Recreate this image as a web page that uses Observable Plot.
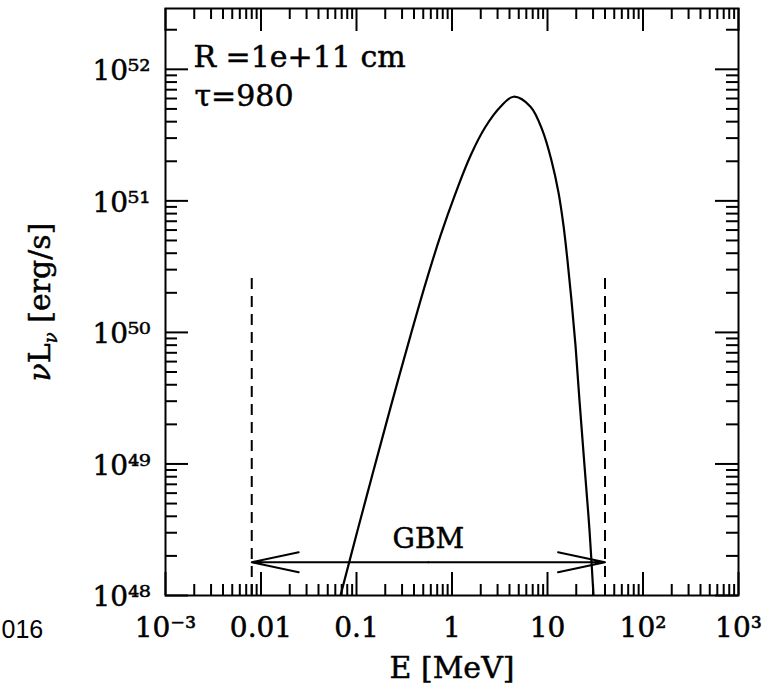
<!DOCTYPE html>
<html>
<head>
<meta charset="utf-8">
<script src="https://cdn.jsdelivr.net/npm/d3@7"></script>
<script src="https://cdn.jsdelivr.net/npm/@observablehq/plot@0.6"></script>
<style>
  body { margin: 0; background: #fff; }
  #chart svg { display: block; }
</style>
</head>
<body>
<div id="chart"></div>
<script>
// Spectrum (E in MeV, nu L_nu in erg/s)
const energyMeV = [0.0680, 0.1025, 0.1507, 0.2270, 0.3677, 0.5279, 0.7578, 1.088, 1.562, 2.243, 3.221, 4.406, 6.637, 8.866, 11.02, 13.04, 14.71, 16.20, 17.84, 19.65, 21.63, 24.40, 27.54, 30.32];
const nuLnu = [1.00e48, 3.12e48, 8.91e48, 2.68e49, 9.46e49, 2.35e50, 5.44e50, 1.142e51, 2.206e51, 3.66e51, 5.20e51, 6.19e51, 5.20e51, 3.42e51, 2.02e51, 1.155e51, 6.48e50, 3.51e50, 1.744e50, 7.94e49, 3.03e49, 9.72e48, 3.12e48, 1.00e48];

// GBM band
const gbmRange = [0.008, 40];
const gbmLineTop = 2.8e50;
const gbmArrowLevel = 1.79e48;
const gbmLabelLevel = 2.7e48;
const gbmLabel = "GBM";

// Annotations
const annotations = ["R =1e+11 cm", "τ=980"];
const xLabel = "E [MeV]";
const yLabel = "νLν [erg/s]";
const sideNote = "016";

// Axes
const xDomain = [1e-3, 1e3];
const yDomain = [1e48, 2.9e52];
const xMajorTicks = [1e-3, 1e-2, 1e-1, 1, 10, 100, 1000];
const xTickLabels = ["10⁻³", "0.01", "0.1", "1", "10", "10²", "10³"];
const yMajorTicks = [1e48, 1e49, 1e50, 1e51, 1e52];
const yTickLabels = ["10⁴⁸", "10⁴⁹", "10⁵⁰", "10⁵¹", "10⁵²"];

function minorTicks([lo, hi]) {
  const out = [];
  for (let e = Math.floor(Math.log10(lo)); e <= Math.ceil(Math.log10(hi)); e++) {
    for (let m = 2; m <= 9; m++) {
      const v = +(m + "e" + e);
      if (v > lo && v < hi) out.push(v);
    }
  }
  return out;
}
const xMinorTicks = minorTicks(xDomain);
const yMinorTicks = minorTicks(yDomain);

// layout
const W = 773, H = 693, mL = 165, mR = 35, mT = 8, mB = 98;
const plotW = W - mL - mR, plotH = H - mT - mB;
const MAJ = 23, MIN_X = 11, MIN_Y = 12;

const spectrum = energyMeV.map((E, i) => ({E, L: nuLnu[i]}));
const gbmMid = Math.sqrt(gbmRange[0] * gbmRange[1]);
const arrows = gbmRange.map(end => ({x1: gbmMid, x2: end, y: gbmArrowLevel}));

const FONT = "DejaVu Serif";
const tickFmtX = d => xTickLabels[xMajorTicks.indexOf(d)];
const tickFmtY = d => yTickLabels[yMajorTicks.indexOf(d)];
const TS = {fill: "#000", stroke: "#000", strokeWidth: 0.5};
const TK = {stroke: "#000", strokeWidth: 2};

// inward ticks on all four sides: tick marks inset from the opposite edge
const inwardTicks = [
  Plot.tickX(xMajorTicks, {x: d => d, insetTop: plotH - MAJ, ...TK}),
  Plot.tickX(xMinorTicks, {x: d => d, insetTop: plotH - MIN_X, ...TK}),
  Plot.tickX(xMajorTicks, {x: d => d, insetBottom: plotH - MAJ, ...TK}),
  Plot.tickX(xMinorTicks, {x: d => d, insetBottom: plotH - MIN_X, ...TK}),
  Plot.tickY(yMajorTicks, {y: d => d, insetRight: plotW - MAJ, ...TK}),
  Plot.tickY(yMinorTicks, {y: d => d, insetRight: plotW - MIN_Y, ...TK}),
  Plot.tickY(yMajorTicks, {y: d => d, insetLeft: plotW - MAJ, ...TK}),
  Plot.tickY(yMinorTicks, {y: d => d, insetLeft: plotW - MIN_Y, ...TK})
];

const chart = Plot.plot({
  width: W,
  height: H,
  marginLeft: mL,
  marginRight: mR,
  marginTop: mT,
  marginBottom: mB,
  style: {fontFamily: FONT, background: "#fff", color: "#000"},
  x: {type: "log", domain: xDomain, label: null},
  y: {type: "log", domain: yDomain, label: null},
  marks: [
    // tick labels
    Plot.axisX(xMajorTicks, {anchor: "bottom", tickSize: 0, tickPadding: 22, tickFormat: tickFmtX, fontSize: 28, fontFamily: FONT, textStroke: "#000", textStrokeWidth: 0.5, label: null}),
    Plot.axisY(yMajorTicks, {anchor: "left", tickSize: 0, tickPadding: 15, tickFormat: tickFmtY, fontSize: 28, fontFamily: FONT, textStroke: "#000", textStrokeWidth: 0.5, dy: 2, label: null}),
    // GBM band
    Plot.ruleX(gbmRange, {y1: yDomain[0], y2: gbmLineTop, strokeWidth: 2, strokeDasharray: "11,7"}),
    Plot.arrow(arrows, {x1: "x1", x2: "x2", y1: "y", y2: "y", strokeWidth: 2, headLength: 36, headAngle: 24}),
    Plot.text([gbmLabel], {x: gbmMid, y: gbmLabelLevel, text: d => d, fontSize: 28, fontFamily: FONT, ...TS}),
    // spectrum
    Plot.line(spectrum, {x: "E", y: "L", curve: "catmull-rom", strokeWidth: 2.2, clip: true}),
    // annotations
    Plot.text([annotations[0]], {text: d => d, frameAnchor: "top-left", dx: 28, dy: 49, textAnchor: "start", lineAnchor: "middle", fontSize: 30, fontFamily: FONT, ...TS}),
    Plot.text([annotations[1]], {text: d => d, frameAnchor: "top-left", dx: 29, dy: 88, textAnchor: "start", lineAnchor: "middle", fontSize: 30, fontFamily: FONT, ...TS}),
    // axis titles
    Plot.text([xLabel], {text: d => d, frameAnchor: "bottom", dy: 73, textAnchor: "middle", lineAnchor: "middle", fontSize: 30, fontFamily: FONT, ...TS}),
    Plot.text([yLabel], {text: d => d, frameAnchor: "left", dx: -125, rotate: -90, textAnchor: "middle", lineAnchor: "middle", fontSize: 30, fontFamily: FONT, ...TS}),
    Plot.text([sideNote], {text: d => d, frameAnchor: "bottom-left", dx: -164, dy: 34, textAnchor: "start", lineAnchor: "middle", fontSize: 25, fontFamily: "Liberation Sans", fill: "#000"}),
    // inward ticks and frame
    ...inwardTicks,
    Plot.frame({fill: "none", stroke: "#000", strokeWidth: 2})
  ]
});

// subscript nu in the y-axis title
d3.select(chart).selectAll("text").filter(function () { return this.textContent === yLabel; }).each(function () {
  const t = d3.select(this);
  t.text(null);
  t.append("tspan").attr("font-style", "italic").text("ν");
  t.append("tspan").text("L");
  t.append("tspan").attr("font-size", 18).attr("font-style", "italic").attr("dy", 7).text("ν");
  t.append("tspan").attr("dy", -7).text(" [erg/s]");
});

document.getElementById("chart").appendChild(chart);
</script>
</body>
</html>
